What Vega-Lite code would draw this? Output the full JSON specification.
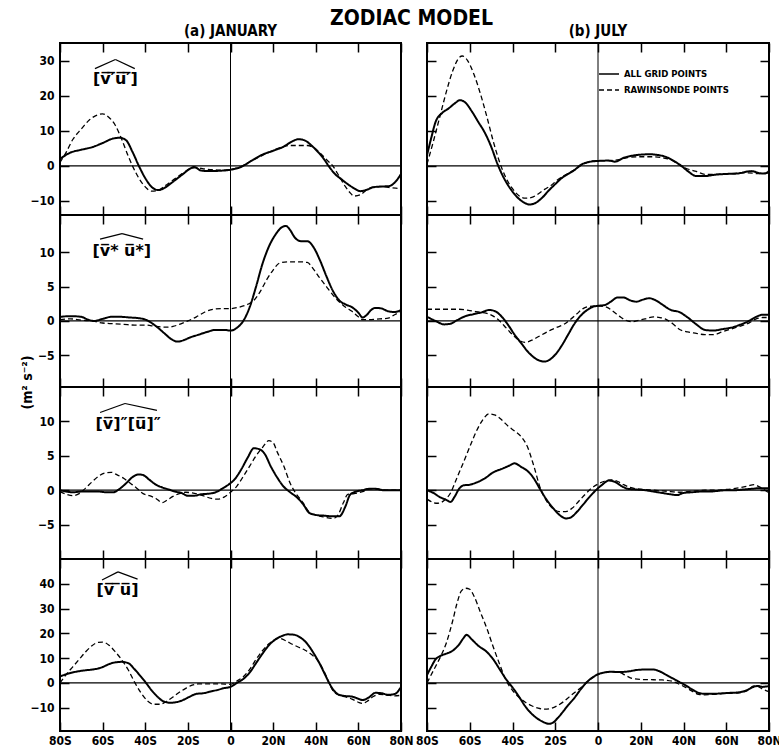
{
"$schema":"https://vega.github.io/schema/vega-lite/v6.json",
"padding":{"left":19,"top":8,"right":0,"bottom":0},
"background":"white",
"title":{"text":"ZODIAC MODEL","fontSize":21,"font":"'DejaVu Sans Condensed', 'Liberation Sans Narrow', 'DejaVu Sans', sans-serif","fontWeight":"bold","anchor":"middle","offset":-6,"dx":11,"color":"black"},
"config":{
 "view":{"stroke":"black","strokeWidth":2},
 "axis":{"domain":false,"grid":false,"tickSize":-9,"tickWidth":1.5,"tickColor":"black","labelFont":"'DejaVu Sans Condensed', 'Liberation Sans Narrow', 'DejaVu Sans', sans-serif","labelFontSize":12,"labelFontWeight":"bold","labelColor":"black","labelPadding":15,"labelFlush":false,"labelOverlap":false,"labelBound":false},
 "title":{"font":"'DejaVu Sans Condensed', 'Liberation Sans Narrow', 'DejaVu Sans', sans-serif","fontSize":16,"fontWeight":"bold","color":"black"}
},
"datasets":{
"J1A":[{"lat":-80,"val":2},{"lat":-75,"val":3.8},{"lat":-70,"val":4.6},{"lat":-65,"val":5.3},{"lat":-60,"val":6.5},{"lat":-55,"val":7.8},{"lat":-52,"val":8},{"lat":-49,"val":7.3},{"lat":-46,"val":4},{"lat":-43,"val":0},{"lat":-40,"val":-3.5},{"lat":-37,"val":-6},{"lat":-34,"val":-6.9},{"lat":-31,"val":-6.3},{"lat":-28,"val":-5},{"lat":-25,"val":-3.6},{"lat":-22,"val":-2.2},{"lat":-19,"val":-0.8},{"lat":-17,"val":-0.3},{"lat":-14,"val":-1.3},{"lat":-10,"val":-1.5},{"lat":-5,"val":-1.4},{"lat":0,"val":-1.1},{"lat":5,"val":-0.3},{"lat":10,"val":1.5},{"lat":15,"val":3.2},{"lat":20,"val":4.3},{"lat":25,"val":5.5},{"lat":29,"val":7},{"lat":32,"val":7.6},{"lat":35,"val":7.2},{"lat":38,"val":5.8},{"lat":41,"val":4},{"lat":44,"val":1.8},{"lat":46,"val":0},{"lat":49,"val":-2.3},{"lat":52,"val":-3.8},{"lat":55,"val":-5.2},{"lat":58,"val":-6.4},{"lat":61,"val":-7.2},{"lat":64,"val":-6.8},{"lat":67,"val":-6.1},{"lat":70,"val":-5.9},{"lat":74,"val":-5.8},{"lat":77,"val":-4.8},{"lat":80,"val":-2.3}],
"J1R":[{"lat":-80,"val":1},{"lat":-77,"val":4},{"lat":-74,"val":7.5},{"lat":-70,"val":10.5},{"lat":-66,"val":13.2},{"lat":-62,"val":14.6},{"lat":-60,"val":14.8},{"lat":-57,"val":13.8},{"lat":-54,"val":11.5},{"lat":-51,"val":7.5},{"lat":-48,"val":2.8},{"lat":-46,"val":0},{"lat":-43,"val":-3.5},{"lat":-40,"val":-6},{"lat":-37,"val":-7.2},{"lat":-34,"val":-7},{"lat":-31,"val":-5.8},{"lat":-28,"val":-4.5},{"lat":-25,"val":-3.2},{"lat":-22,"val":-1.9},{"lat":-19,"val":-0.8},{"lat":-16,"val":-0.5},{"lat":-12,"val":-0.9},{"lat":-8,"val":-1.1},{"lat":-4,"val":-1.2},{"lat":0,"val":-1},{"lat":5,"val":-0.2},{"lat":10,"val":1.5},{"lat":15,"val":3},{"lat":20,"val":4.4},{"lat":25,"val":5.5},{"lat":28,"val":5.8},{"lat":32,"val":5.8},{"lat":36,"val":5.8},{"lat":39,"val":5.2},{"lat":42,"val":3.7},{"lat":45,"val":1.8},{"lat":48,"val":0},{"lat":51,"val":-3},{"lat":54,"val":-6},{"lat":56,"val":-7.6},{"lat":58,"val":-8.6},{"lat":61,"val":-8.2},{"lat":64,"val":-6.8},{"lat":67,"val":-6},{"lat":70,"val":-5.9},{"lat":75,"val":-6.2},{"lat":80,"val":-6.5}],
"Y1A":[{"lat":-80,"val":3},{"lat":-78,"val":8},{"lat":-76,"val":12.5},{"lat":-73,"val":15},{"lat":-70,"val":16.3},{"lat":-67,"val":17.8},{"lat":-64.6,"val":18.7},{"lat":-62,"val":18},{"lat":-59,"val":15.5},{"lat":-56,"val":12.5},{"lat":-53,"val":9.5},{"lat":-50,"val":5.5},{"lat":-47,"val":0.5},{"lat":-44,"val":-3.5},{"lat":-41,"val":-6.5},{"lat":-38,"val":-8.8},{"lat":-35,"val":-10.3},{"lat":-32,"val":-11},{"lat":-29,"val":-10.5},{"lat":-26,"val":-9},{"lat":-23,"val":-7},{"lat":-20,"val":-5.2},{"lat":-17,"val":-3.5},{"lat":-14,"val":-2.3},{"lat":-11,"val":-1.2},{"lat":-8,"val":0.3},{"lat":-5,"val":1},{"lat":0,"val":1.4},{"lat":5,"val":1.5},{"lat":8,"val":1.2},{"lat":12,"val":2.3},{"lat":16,"val":2.9},{"lat":20,"val":3.2},{"lat":24,"val":3.3},{"lat":28,"val":3.1},{"lat":32,"val":2.5},{"lat":36,"val":1.2},{"lat":39,"val":0},{"lat":42,"val":-1.5},{"lat":46,"val":-2.9},{"lat":50,"val":-2.9},{"lat":55,"val":-2.5},{"lat":60,"val":-2.3},{"lat":65,"val":-2.2},{"lat":70,"val":-1.6},{"lat":72,"val":-1.5},{"lat":75,"val":-2},{"lat":78,"val":-2.2},{"lat":80,"val":-1.5}],
"Y1R":[{"lat":-80,"val":0.5},{"lat":-77,"val":7},{"lat":-74,"val":14},{"lat":-71,"val":21},{"lat":-68,"val":27},{"lat":-65,"val":30.8},{"lat":-63.5,"val":31.3},{"lat":-61,"val":30},{"lat":-58,"val":26},{"lat":-55,"val":20.5},{"lat":-52,"val":14},{"lat":-49,"val":7},{"lat":-46,"val":1},{"lat":-43,"val":-3.5},{"lat":-40,"val":-6.5},{"lat":-37,"val":-8.5},{"lat":-34,"val":-9.2},{"lat":-31,"val":-9},{"lat":-28,"val":-8},{"lat":-25,"val":-6.7},{"lat":-22,"val":-5.6},{"lat":-19,"val":-4},{"lat":-16,"val":-2.8},{"lat":-13,"val":-1.8},{"lat":-10,"val":-0.7},{"lat":-7,"val":0.5},{"lat":-4,"val":1.2},{"lat":0,"val":1.5},{"lat":5,"val":1.5},{"lat":10,"val":1.8},{"lat":15,"val":2.5},{"lat":20,"val":2.6},{"lat":25,"val":2.6},{"lat":30,"val":2.3},{"lat":35,"val":1.5},{"lat":38,"val":0.3},{"lat":42,"val":-0.9},{"lat":46,"val":-1.6},{"lat":50,"val":-2.4},{"lat":55,"val":-2.4},{"lat":60,"val":-2.3},{"lat":65,"val":-2.1},{"lat":70,"val":-2},{"lat":75,"val":-2.2},{"lat":80,"val":-2}],
"J2A":[{"lat":-80,"val":0.6},{"lat":-75,"val":0.7},{"lat":-70,"val":0.6},{"lat":-67,"val":0.2},{"lat":-64,"val":0},{"lat":-60,"val":0.3},{"lat":-56,"val":0.6},{"lat":-52,"val":0.6},{"lat":-47,"val":0.5},{"lat":-43,"val":0.4},{"lat":-40,"val":0.2},{"lat":-37,"val":-0.3},{"lat":-34,"val":-1},{"lat":-31,"val":-1.8},{"lat":-28,"val":-2.6},{"lat":-25,"val":-3},{"lat":-22,"val":-2.8},{"lat":-19,"val":-2.4},{"lat":-15,"val":-2},{"lat":-11,"val":-1.6},{"lat":-7,"val":-1.3},{"lat":-3,"val":-1.3},{"lat":0,"val":-1.4},{"lat":3,"val":-1},{"lat":6,"val":0},{"lat":9,"val":2},{"lat":12,"val":5},{"lat":15,"val":8.3},{"lat":18,"val":10.8},{"lat":21,"val":12.5},{"lat":24,"val":13.6},{"lat":26,"val":13.8},{"lat":28,"val":13.2},{"lat":30,"val":12.2},{"lat":33,"val":11.6},{"lat":36,"val":11.6},{"lat":39,"val":10.7},{"lat":42,"val":8.8},{"lat":45,"val":6.5},{"lat":48,"val":4.4},{"lat":51,"val":3},{"lat":54,"val":2.4},{"lat":57,"val":2},{"lat":60,"val":1.2},{"lat":62,"val":0.5},{"lat":64,"val":0.9},{"lat":66,"val":1.6},{"lat":68,"val":1.9},{"lat":71,"val":1.8},{"lat":74,"val":1.4},{"lat":77,"val":1.3},{"lat":80,"val":1.6}],
"J2R":[{"lat":-80,"val":0.2},{"lat":-75,"val":0.3},{"lat":-70,"val":0.1},{"lat":-65,"val":0},{"lat":-60,"val":-0.3},{"lat":-55,"val":-0.4},{"lat":-50,"val":-0.5},{"lat":-45,"val":-0.6},{"lat":-40,"val":-0.6},{"lat":-35,"val":-0.8},{"lat":-30,"val":-0.9},{"lat":-27,"val":-0.8},{"lat":-24,"val":-0.5},{"lat":-20,"val":0},{"lat":-16,"val":0.6},{"lat":-12,"val":1.3},{"lat":-8,"val":1.7},{"lat":-4,"val":1.8},{"lat":0,"val":1.8},{"lat":4,"val":2},{"lat":8,"val":2.4},{"lat":11,"val":3},{"lat":14,"val":4.3},{"lat":17,"val":6},{"lat":20,"val":7.4},{"lat":23,"val":8.4},{"lat":27,"val":8.6},{"lat":32,"val":8.6},{"lat":36,"val":8.5},{"lat":39,"val":7.5},{"lat":42,"val":6.2},{"lat":45,"val":5},{"lat":48,"val":3.8},{"lat":51,"val":2.8},{"lat":54,"val":2},{"lat":57,"val":1.4},{"lat":60,"val":0.6},{"lat":62,"val":0.2},{"lat":66,"val":0.2},{"lat":70,"val":0.3},{"lat":74,"val":0.4},{"lat":77,"val":0.9},{"lat":80,"val":1.4}],
"Y2A":[{"lat":-80,"val":0.6},{"lat":-76,"val":0},{"lat":-72,"val":-0.5},{"lat":-69,"val":-0.4},{"lat":-66,"val":0.1},{"lat":-62,"val":0.7},{"lat":-58,"val":1},{"lat":-54,"val":1.3},{"lat":-51,"val":1.6},{"lat":-48,"val":1.4},{"lat":-45,"val":0.6},{"lat":-42,"val":-0.6},{"lat":-39,"val":-2},{"lat":-36,"val":-3.2},{"lat":-33,"val":-4.4},{"lat":-30,"val":-5.3},{"lat":-27,"val":-5.8},{"lat":-25,"val":-5.9},{"lat":-23,"val":-5.7},{"lat":-20,"val":-4.9},{"lat":-17,"val":-3.6},{"lat":-14,"val":-2},{"lat":-11,"val":-0.4},{"lat":-8,"val":0.8},{"lat":-5,"val":1.6},{"lat":-2,"val":2.1},{"lat":0,"val":2.2},{"lat":3,"val":2.3},{"lat":6,"val":2.8},{"lat":9,"val":3.4},{"lat":12,"val":3.4},{"lat":15,"val":3},{"lat":18,"val":2.8},{"lat":21,"val":3.1},{"lat":24,"val":3.3},{"lat":27,"val":3},{"lat":30,"val":2.4},{"lat":34,"val":1.6},{"lat":38,"val":1.3},{"lat":42,"val":0.5},{"lat":46,"val":-0.5},{"lat":50,"val":-1.3},{"lat":54,"val":-1.4},{"lat":58,"val":-1.2},{"lat":62,"val":-1},{"lat":66,"val":-0.6},{"lat":70,"val":-0.1},{"lat":74,"val":0.6},{"lat":77,"val":0.9},{"lat":80,"val":0.9}],
"Y2R":[{"lat":-80,"val":1.7},{"lat":-75,"val":1.7},{"lat":-70,"val":1.7},{"lat":-65,"val":1.7},{"lat":-60,"val":1.5},{"lat":-56,"val":1.3},{"lat":-52,"val":1.1},{"lat":-49,"val":0.7},{"lat":-46,"val":0},{"lat":-43,"val":-1},{"lat":-40,"val":-2},{"lat":-37,"val":-2.8},{"lat":-34,"val":-3.1},{"lat":-31,"val":-2.8},{"lat":-28,"val":-2.3},{"lat":-25,"val":-1.8},{"lat":-22,"val":-1.3},{"lat":-19,"val":-0.9},{"lat":-16,"val":-0.5},{"lat":-13,"val":0.2},{"lat":-10,"val":1},{"lat":-7,"val":1.8},{"lat":-4,"val":2.1},{"lat":0,"val":2.2},{"lat":4,"val":2},{"lat":7,"val":1.4},{"lat":10,"val":0.7},{"lat":13,"val":0.1},{"lat":16,"val":-0.1},{"lat":19,"val":0.1},{"lat":22,"val":0.3},{"lat":26,"val":0.6},{"lat":29,"val":0.5},{"lat":32,"val":0.2},{"lat":35,"val":-0.4},{"lat":38,"val":-1.2},{"lat":42,"val":-1.6},{"lat":46,"val":-1.8},{"lat":50,"val":-2},{"lat":54,"val":-2},{"lat":58,"val":-1.6},{"lat":62,"val":-1.2},{"lat":66,"val":-0.8},{"lat":70,"val":-0.4},{"lat":74,"val":0.3},{"lat":77,"val":0.5},{"lat":80,"val":0.5}],
"J3A":[{"lat":-80,"val":0},{"lat":-77,"val":-0.2},{"lat":-74,"val":-0.3},{"lat":-70,"val":-0.2},{"lat":-66,"val":-0.2},{"lat":-62,"val":-0.2},{"lat":-58,"val":-0.3},{"lat":-55,"val":-0.3},{"lat":-52,"val":0.2},{"lat":-49,"val":1},{"lat":-46,"val":1.9},{"lat":-43,"val":2.3},{"lat":-41,"val":2.2},{"lat":-38,"val":1.5},{"lat":-35,"val":0.8},{"lat":-32,"val":0.4},{"lat":-29,"val":0.1},{"lat":-26,"val":-0.2},{"lat":-23,"val":-0.4},{"lat":-20,"val":-0.8},{"lat":-17,"val":-0.8},{"lat":-14,"val":-0.6},{"lat":-10,"val":-0.5},{"lat":-7,"val":-0.3},{"lat":-4,"val":0.2},{"lat":-1,"val":0.8},{"lat":2,"val":1.6},{"lat":5,"val":3},{"lat":8,"val":4.7},{"lat":11,"val":6.1},{"lat":14,"val":5.9},{"lat":16,"val":5.3},{"lat":19,"val":3.4},{"lat":22,"val":1.8},{"lat":25,"val":0.5},{"lat":28,"val":-0.3},{"lat":31,"val":-1},{"lat":34,"val":-2},{"lat":37,"val":-3.3},{"lat":40,"val":-3.6},{"lat":44,"val":-3.7},{"lat":48,"val":-3.8},{"lat":51,"val":-3.8},{"lat":54,"val":-2.3},{"lat":56,"val":-0.7},{"lat":58,"val":-0.3},{"lat":62,"val":0},{"lat":65,"val":0.2},{"lat":68,"val":0.2},{"lat":72,"val":0},{"lat":76,"val":0},{"lat":80,"val":0}],
"J3R":[{"lat":-80,"val":-0.2},{"lat":-77,"val":-0.6},{"lat":-74,"val":-0.8},{"lat":-71,"val":-0.5},{"lat":-68,"val":0.3},{"lat":-65,"val":1.2},{"lat":-62,"val":2},{"lat":-59,"val":2.5},{"lat":-56,"val":2.6},{"lat":-53,"val":2.2},{"lat":-50,"val":1.7},{"lat":-47,"val":1},{"lat":-44,"val":0.3},{"lat":-41,"val":-0.5},{"lat":-38,"val":-0.8},{"lat":-35,"val":-1.2},{"lat":-32,"val":-1.8},{"lat":-30,"val":-1.5},{"lat":-27,"val":-0.9},{"lat":-24,"val":-0.5},{"lat":-21,"val":-0.3},{"lat":-18,"val":-0.4},{"lat":-15,"val":-0.6},{"lat":-12,"val":-0.9},{"lat":-9,"val":-1.2},{"lat":-6,"val":-1.3},{"lat":-3,"val":-1},{"lat":0,"val":-0.3},{"lat":3,"val":0.6},{"lat":6,"val":2},{"lat":9,"val":3.5},{"lat":12,"val":5},{"lat":15,"val":6.2},{"lat":18,"val":7.2},{"lat":20,"val":6.9},{"lat":22,"val":5.5},{"lat":25,"val":3.5},{"lat":28,"val":1},{"lat":31,"val":-0.6},{"lat":34,"val":-1.8},{"lat":37,"val":-3.2},{"lat":40,"val":-3.6},{"lat":44,"val":-3.9},{"lat":48,"val":-4.1},{"lat":50,"val":-3.8},{"lat":53,"val":-1.8},{"lat":55,"val":-0.6},{"lat":58,"val":-0.5},{"lat":62,"val":-0.2},{"lat":66,"val":0.2},{"lat":70,"val":0.1},{"lat":75,"val":0},{"lat":80,"val":0}],
"Y3A":[{"lat":-80,"val":0},{"lat":-77,"val":-0.4},{"lat":-74,"val":-1},{"lat":-71,"val":-1.4},{"lat":-69,"val":-1.7},{"lat":-67,"val":-0.9},{"lat":-65,"val":0.2},{"lat":-63,"val":0.7},{"lat":-60,"val":0.8},{"lat":-57,"val":1.1},{"lat":-53,"val":1.7},{"lat":-49,"val":2.6},{"lat":-45,"val":3.1},{"lat":-42,"val":3.5},{"lat":-39,"val":3.9},{"lat":-36,"val":3.4},{"lat":-33,"val":2.8},{"lat":-30,"val":1.7},{"lat":-27,"val":0.1},{"lat":-24,"val":-1.4},{"lat":-21,"val":-2.6},{"lat":-18,"val":-3.6},{"lat":-15,"val":-4.1},{"lat":-13,"val":-4},{"lat":-10,"val":-3.2},{"lat":-7,"val":-2.1},{"lat":-4,"val":-1},{"lat":-1,"val":0},{"lat":2,"val":0.8},{"lat":5,"val":1.4},{"lat":8,"val":1.2},{"lat":11,"val":0.6},{"lat":14,"val":0.2},{"lat":18,"val":0.1},{"lat":22,"val":0},{"lat":26,"val":-0.2},{"lat":30,"val":-0.4},{"lat":34,"val":-0.6},{"lat":37,"val":-0.7},{"lat":40,"val":-0.4},{"lat":44,"val":-0.3},{"lat":48,"val":-0.2},{"lat":52,"val":-0.2},{"lat":56,"val":-0.1},{"lat":60,"val":0},{"lat":64,"val":0},{"lat":68,"val":0.1},{"lat":72,"val":0.2},{"lat":76,"val":0.3},{"lat":80,"val":0.3}],
"Y3R":[{"lat":-80,"val":-1.3},{"lat":-77,"val":-1.8},{"lat":-75,"val":-1.9},{"lat":-72,"val":-1.5},{"lat":-69,"val":-0.4},{"lat":-66,"val":1.8},{"lat":-63,"val":4},{"lat":-60,"val":6.3},{"lat":-57,"val":8.5},{"lat":-54,"val":10.2},{"lat":-51,"val":11.1},{"lat":-48,"val":10.9},{"lat":-45,"val":10.2},{"lat":-42,"val":9.3},{"lat":-39,"val":8.6},{"lat":-36,"val":7.8},{"lat":-33,"val":6.3},{"lat":-30,"val":3.5},{"lat":-27,"val":0.3},{"lat":-24,"val":-1.6},{"lat":-21,"val":-2.7},{"lat":-18,"val":-3.1},{"lat":-15,"val":-3.1},{"lat":-12,"val":-2.6},{"lat":-9,"val":-1.6},{"lat":-6,"val":-0.6},{"lat":-3,"val":0.3},{"lat":0,"val":0.9},{"lat":3,"val":1.3},{"lat":6,"val":1.5},{"lat":9,"val":1.3},{"lat":12,"val":0.8},{"lat":15,"val":0.4},{"lat":18,"val":0.2},{"lat":22,"val":0.1},{"lat":26,"val":0},{"lat":30,"val":-0.1},{"lat":34,"val":-0.2},{"lat":38,"val":-0.3},{"lat":42,"val":-0.2},{"lat":46,"val":-0.1},{"lat":50,"val":0},{"lat":55,"val":0},{"lat":60,"val":0.1},{"lat":65,"val":0.3},{"lat":70,"val":0.6},{"lat":73,"val":0.8},{"lat":76,"val":0.4},{"lat":80,"val":-0.4}],
"J4A":[{"lat":-80,"val":2.6},{"lat":-76,"val":3.8},{"lat":-72,"val":4.6},{"lat":-68,"val":5.1},{"lat":-64,"val":5.5},{"lat":-60,"val":6.4},{"lat":-57,"val":7.6},{"lat":-54,"val":8.3},{"lat":-51,"val":8.5},{"lat":-48,"val":8},{"lat":-45,"val":5.5},{"lat":-42,"val":2.5},{"lat":-40,"val":0.4},{"lat":-37,"val":-3},{"lat":-34,"val":-5.8},{"lat":-31,"val":-7.6},{"lat":-28,"val":-8},{"lat":-25,"val":-7.7},{"lat":-22,"val":-6.8},{"lat":-19,"val":-5.5},{"lat":-16,"val":-4.4},{"lat":-13,"val":-4.2},{"lat":-10,"val":-3.6},{"lat":-6,"val":-2.8},{"lat":-3,"val":-2.1},{"lat":0,"val":-1.6},{"lat":3,"val":0},{"lat":6,"val":1.6},{"lat":9,"val":4.2},{"lat":12,"val":8},{"lat":15,"val":11.8},{"lat":18,"val":15.2},{"lat":21,"val":17.5},{"lat":24,"val":18.9},{"lat":27,"val":19.6},{"lat":30,"val":19.4},{"lat":33,"val":18.2},{"lat":36,"val":15.8},{"lat":39,"val":12},{"lat":42,"val":7.5},{"lat":44,"val":4},{"lat":46,"val":0.5},{"lat":48,"val":-2.5},{"lat":51,"val":-4.8},{"lat":54,"val":-5.3},{"lat":57,"val":-5.5},{"lat":60,"val":-6.4},{"lat":62,"val":-6.9},{"lat":65,"val":-5.8},{"lat":68,"val":-4},{"lat":71,"val":-4.2},{"lat":74,"val":-4.8},{"lat":77,"val":-4.5},{"lat":80,"val":-1.6}],
"J4R":[{"lat":-80,"val":0},{"lat":-77,"val":3.5},{"lat":-74,"val":6.5},{"lat":-71,"val":9.5},{"lat":-68,"val":12.5},{"lat":-65,"val":15},{"lat":-62,"val":16.4},{"lat":-60,"val":16.5},{"lat":-57,"val":15.2},{"lat":-54,"val":12.5},{"lat":-51,"val":9.3},{"lat":-48,"val":5.3},{"lat":-45,"val":0.3},{"lat":-42,"val":-4},{"lat":-39,"val":-7.2},{"lat":-36,"val":-8.6},{"lat":-33,"val":-8.6},{"lat":-30,"val":-7.4},{"lat":-27,"val":-5.7},{"lat":-24,"val":-3.8},{"lat":-21,"val":-2.2},{"lat":-18,"val":-0.9},{"lat":-15,"val":-0.4},{"lat":-10,"val":-0.4},{"lat":-5,"val":-0.4},{"lat":0,"val":-0.6},{"lat":3,"val":0.8},{"lat":6,"val":2.5},{"lat":9,"val":5.5},{"lat":12,"val":9.5},{"lat":15,"val":13},{"lat":18,"val":15.8},{"lat":21,"val":17.5},{"lat":23,"val":18},{"lat":26,"val":17},{"lat":29,"val":15.6},{"lat":32,"val":14.4},{"lat":35,"val":13.2},{"lat":38,"val":11.5},{"lat":41,"val":9},{"lat":44,"val":4.5},{"lat":46,"val":0.5},{"lat":48,"val":-3},{"lat":51,"val":-5},{"lat":54,"val":-5.6},{"lat":57,"val":-6.5},{"lat":60,"val":-7.8},{"lat":62,"val":-8.3},{"lat":64,"val":-7.5},{"lat":67,"val":-5.5},{"lat":70,"val":-4.6},{"lat":74,"val":-5},{"lat":77,"val":-5.2},{"lat":80,"val":-5}],
"Y4A":[{"lat":-80,"val":3.2},{"lat":-78,"val":6.5},{"lat":-76,"val":9.5},{"lat":-74,"val":10.8},{"lat":-71,"val":11.8},{"lat":-68,"val":13},{"lat":-65,"val":15.5},{"lat":-63,"val":18},{"lat":-61.5,"val":19.4},{"lat":-59,"val":17.5},{"lat":-56,"val":15},{"lat":-52,"val":12.5},{"lat":-49,"val":9.5},{"lat":-46,"val":5.5},{"lat":-43,"val":1.5},{"lat":-40,"val":-1.8},{"lat":-37,"val":-5.5},{"lat":-34,"val":-9.5},{"lat":-31,"val":-12.5},{"lat":-28,"val":-14.6},{"lat":-25,"val":-16},{"lat":-23,"val":-16.5},{"lat":-21,"val":-16},{"lat":-19,"val":-14.3},{"lat":-17,"val":-12.3},{"lat":-14,"val":-9},{"lat":-11,"val":-6},{"lat":-8,"val":-2.5},{"lat":-5,"val":0.5},{"lat":-2,"val":2.5},{"lat":0,"val":3.5},{"lat":3,"val":4.2},{"lat":6,"val":4.5},{"lat":10,"val":4.4},{"lat":14,"val":4.6},{"lat":18,"val":5.2},{"lat":22,"val":5.4},{"lat":26,"val":5.4},{"lat":29,"val":4.6},{"lat":32,"val":3.2},{"lat":35,"val":1.8},{"lat":38,"val":0.4},{"lat":41,"val":-1},{"lat":44,"val":-2.6},{"lat":47,"val":-4},{"lat":50,"val":-4.4},{"lat":54,"val":-4.4},{"lat":58,"val":-4.2},{"lat":62,"val":-4},{"lat":66,"val":-3.8},{"lat":70,"val":-2.8},{"lat":73,"val":-1.5},{"lat":75,"val":-1.2},{"lat":77,"val":-1.6},{"lat":80,"val":-1.2}],
"Y4R":[{"lat":-80,"val":0},{"lat":-77,"val":5},{"lat":-74,"val":10},{"lat":-71,"val":16},{"lat":-68,"val":25},{"lat":-66,"val":32},{"lat":-64,"val":37},{"lat":-62,"val":38.2},{"lat":-60,"val":37.8},{"lat":-58,"val":35},{"lat":-55,"val":28.5},{"lat":-52,"val":22},{"lat":-49,"val":14.5},{"lat":-46,"val":7.5},{"lat":-43,"val":1},{"lat":-40,"val":-3},{"lat":-37,"val":-5.8},{"lat":-34,"val":-7.8},{"lat":-31,"val":-9.2},{"lat":-28,"val":-10.2},{"lat":-25,"val":-10.6},{"lat":-22,"val":-10.3},{"lat":-19,"val":-9.2},{"lat":-16,"val":-7.5},{"lat":-13,"val":-5.3},{"lat":-10,"val":-3.2},{"lat":-7,"val":-1.2},{"lat":-4,"val":1.2},{"lat":-1,"val":3},{"lat":2,"val":4},{"lat":6,"val":4.5},{"lat":10,"val":4.2},{"lat":13,"val":3},{"lat":16,"val":1.8},{"lat":20,"val":1.4},{"lat":25,"val":1.3},{"lat":30,"val":1.2},{"lat":35,"val":0.6},{"lat":38,"val":-0.5},{"lat":41,"val":-1.8},{"lat":44,"val":-3.3},{"lat":47,"val":-4.6},{"lat":50,"val":-4.8},{"lat":54,"val":-4.6},{"lat":58,"val":-4.3},{"lat":62,"val":-4.2},{"lat":66,"val":-4},{"lat":70,"val":-3},{"lat":73,"val":-1.2},{"lat":75,"val":-1.5},{"lat":77,"val":-2.5},{"lat":80,"val":-3.5}]
},
"columns":2,
"spacing":{"row":0,"column":26},
"bounds":"flush",
"concat":[
 {"width":341,"height":172,"title":{"text":"(a)  JANUARY","offset":3,"fontSize":15},
  "resolve":{"axis":{"x":"independent","y":"independent"}},
  "layer":[
   {"data":{"values":[{}]},"mark":{"type":"rule","color":"black","strokeWidth":1.2},"encoding":{"y":{"datum":0,"type":"quantitative","scale":{"domain":[-14,35],"nice":false,"zero":false},"axis":null}}},
   {"data":{"values":[{}]},"mark":{"type":"rule","color":"black","strokeWidth":1},"encoding":{"x":{"datum":0,"type":"quantitative","scale":{"domain":[-80,80],"nice":false},"axis":{"orient":"top","title":null,"values":[-80,-60,-40,-20,0,20,40,60,80],"labels":false}}}},
   {"data":{"name":"J1A"},"mark":{"type":"line","color":"black","strokeWidth":2,"interpolate":"monotone"},"encoding":{"x":{"field":"lat","type":"quantitative","scale":{"domain":[-80,80],"nice":false},"axis":{"orient":"bottom","title":null,"values":[-80,-60,-40,-20,0,20,40,60,80],"labels":false}},"y":{"field":"val","type":"quantitative","scale":{"domain":[-14,35],"nice":false,"zero":false},"axis":{"orient":"left","title":null,"values":[-10,0,10,20,30]}},"strokeDash":{"datum":"ALL GRID POINTS","type":"nominal","scale":{"domain":["ALL GRID POINTS","RAWINSONDE POINTS"],"range":[[1,0],[5,3]]},"legend":{"orient":"none","legendX":538,"legendY":20,"title":null,"symbolType":"stroke","symbolSize":400,"symbolStrokeWidth":1.5,"symbolStrokeColor":"black","labelFont":"'DejaVu Sans Condensed', 'Liberation Sans Narrow', 'DejaVu Sans', sans-serif","labelFontSize":9.5,"labelFontWeight":"bold","labelColor":"black","labelOffset":4,"rowPadding":0}}}},
   {"data":{"name":"J1R"},"mark":{"type":"line","color":"black","strokeWidth":1.3,"interpolate":"monotone"},"encoding":{"x":{"field":"lat","type":"quantitative","scale":{"domain":[-80,80],"nice":false},"axis":null},"y":{"field":"val","type":"quantitative","scale":{"domain":[-14,35],"nice":false,"zero":false},"axis":null},"strokeDash":{"datum":"RAWINSONDE POINTS","type":"nominal"}}},
   {"data":{"values":[{}]},"mark":{"type":"text","font":"DejaVu Sans","fontSize":16,"fontWeight":"bold","color":"black"},"encoding":{"x":{"datum":-54,"type":"quantitative","axis":null},"y":{"datum":24.8,"type":"quantitative","axis":null},"text":{"value":"[v\u0305\u2032\u0305u\u0305\u2032\u0305]"}}},
   {"data":{"values":[{}]},"mark":{"type":"rule","color":"black","strokeWidth":1.2},"encoding":{"x":{"datum":-63.6,"type":"quantitative","axis":null},"y":{"datum":27.7,"type":"quantitative","axis":null},"x2":{"datum":-54},"y2":{"datum":30.3}}},
   {"data":{"values":[{}]},"mark":{"type":"rule","color":"black","strokeWidth":1.2},"encoding":{"x":{"datum":-54,"type":"quantitative","axis":null},"y":{"datum":30.3,"type":"quantitative","axis":null},"x2":{"datum":-44.9},"y2":{"datum":27.7}}}
  ]},
 {"width":342,"height":172,"title":{"text":"(b)  JULY","offset":3,"fontSize":15},
  "resolve":{"axis":{"x":"independent","y":"independent"}},
  "layer":[
   {"data":{"values":[{}]},"mark":{"type":"rule","color":"black","strokeWidth":1.2},"encoding":{"y":{"datum":0,"type":"quantitative","scale":{"domain":[-14,35],"nice":false,"zero":false},"axis":{"orient":"right","title":null,"values":[-10,0,10,20,30],"labels":false}}}},
   {"data":{"values":[{}]},"mark":{"type":"rule","color":"black","strokeWidth":1},"encoding":{"x":{"datum":0,"type":"quantitative","scale":{"domain":[-80,80],"nice":false},"axis":{"orient":"top","title":null,"values":[-80,-60,-40,-20,0,20,40,60,80],"labels":false}}}},
   {"data":{"name":"Y1A"},"mark":{"type":"line","color":"black","strokeWidth":2,"interpolate":"monotone"},"encoding":{"x":{"field":"lat","type":"quantitative","scale":{"domain":[-80,80],"nice":false},"axis":{"orient":"bottom","title":null,"values":[-80,-60,-40,-20,0,20,40,60,80],"labels":false}},"y":{"field":"val","type":"quantitative","scale":{"domain":[-14,35],"nice":false,"zero":false},"axis":{"orient":"left","title":null,"values":[-10,0,10,20,30],"labels":false}},"strokeDash":{"datum":"ALL GRID POINTS","type":"nominal"}}},
   {"data":{"name":"Y1R"},"mark":{"type":"line","color":"black","strokeWidth":1.3,"interpolate":"monotone"},"encoding":{"x":{"field":"lat","type":"quantitative","scale":{"domain":[-80,80],"nice":false},"axis":null},"y":{"field":"val","type":"quantitative","scale":{"domain":[-14,35],"nice":false,"zero":false},"axis":null},"strokeDash":{"datum":"RAWINSONDE POINTS","type":"nominal"}}}
  ]},
 {"width":341,"height":172,
  "resolve":{"axis":{"x":"independent","y":"independent"}},
  "layer":[
   {"data":{"values":[{}]},"mark":{"type":"rule","color":"black","strokeWidth":1.2},"encoding":{"y":{"datum":0,"type":"quantitative","scale":{"domain":[-9.6,15.4],"nice":false,"zero":false},"axis":null}}},
   {"data":{"values":[{}]},"mark":{"type":"rule","color":"black","strokeWidth":1},"encoding":{"x":{"datum":0,"type":"quantitative","scale":{"domain":[-80,80],"nice":false},"axis":{"orient":"top","title":null,"values":[-80,-60,-40,-20,0,20,40,60,80],"labels":false}}}},
   {"data":{"name":"J2A"},"mark":{"type":"line","color":"black","strokeWidth":2,"interpolate":"monotone"},"encoding":{"x":{"field":"lat","type":"quantitative","scale":{"domain":[-80,80],"nice":false},"axis":{"orient":"bottom","title":null,"values":[-80,-60,-40,-20,0,20,40,60,80],"labels":false}},"y":{"field":"val","type":"quantitative","scale":{"domain":[-9.6,15.4],"nice":false,"zero":false},"axis":{"orient":"left","values":[-5,0,5,10],"title":"(m\u00b2 s\u207b\u00b2)","titleFont":"'DejaVu Sans Condensed', 'DejaVu Sans', sans-serif","titleFontSize":14,"titleFontWeight":"bold","titleColor":"black","titleAngle":-90,"titleX":-33,"titleY":167,"titleAlign":"center","titleBaseline":"middle"}},"strokeDash":{"datum":"ALL GRID POINTS","type":"nominal"}}},
   {"data":{"name":"J2R"},"mark":{"type":"line","color":"black","strokeWidth":1.3,"interpolate":"monotone"},"encoding":{"x":{"field":"lat","type":"quantitative","scale":{"domain":[-80,80],"nice":false},"axis":null},"y":{"field":"val","type":"quantitative","scale":{"domain":[-9.6,15.4],"nice":false,"zero":false},"axis":null},"strokeDash":{"datum":"RAWINSONDE POINTS","type":"nominal"}}},
   {"data":{"values":[{}]},"mark":{"type":"text","font":"DejaVu Sans","fontSize":16,"fontWeight":"bold","color":"black"},"encoding":{"x":{"datum":-51,"type":"quantitative","axis":null},"y":{"datum":10.1,"type":"quantitative","axis":null},"text":{"value":"[v\u0305* u\u0305*]"}}},
   {"data":{"values":[{}]},"mark":{"type":"rule","color":"black","strokeWidth":1.2},"encoding":{"x":{"datum":-61.2,"type":"quantitative","axis":null},"y":{"datum":11.9,"type":"quantitative","axis":null},"x2":{"datum":-50.9},"y2":{"datum":12.7}}},
   {"data":{"values":[{}]},"mark":{"type":"rule","color":"black","strokeWidth":1.2},"encoding":{"x":{"datum":-50.9,"type":"quantitative","axis":null},"y":{"datum":12.7,"type":"quantitative","axis":null},"x2":{"datum":-41},"y2":{"datum":11.9}}}
  ]},
 {"width":342,"height":172,
  "resolve":{"axis":{"x":"independent","y":"independent"}},
  "layer":[
   {"data":{"values":[{}]},"mark":{"type":"rule","color":"black","strokeWidth":1.2},"encoding":{"y":{"datum":0,"type":"quantitative","scale":{"domain":[-9.6,15.4],"nice":false,"zero":false},"axis":{"orient":"right","title":null,"values":[-5,0,5,10],"labels":false}}}},
   {"data":{"values":[{}]},"mark":{"type":"rule","color":"black","strokeWidth":1},"encoding":{"x":{"datum":0,"type":"quantitative","scale":{"domain":[-80,80],"nice":false},"axis":{"orient":"top","title":null,"values":[-80,-60,-40,-20,0,20,40,60,80],"labels":false}}}},
   {"data":{"name":"Y2A"},"mark":{"type":"line","color":"black","strokeWidth":2,"interpolate":"monotone"},"encoding":{"x":{"field":"lat","type":"quantitative","scale":{"domain":[-80,80],"nice":false},"axis":{"orient":"bottom","title":null,"values":[-80,-60,-40,-20,0,20,40,60,80],"labels":false}},"y":{"field":"val","type":"quantitative","scale":{"domain":[-9.6,15.4],"nice":false,"zero":false},"axis":{"orient":"left","title":null,"values":[-5,0,5,10],"labels":false}},"strokeDash":{"datum":"ALL GRID POINTS","type":"nominal"}}},
   {"data":{"name":"Y2R"},"mark":{"type":"line","color":"black","strokeWidth":1.3,"interpolate":"monotone"},"encoding":{"x":{"field":"lat","type":"quantitative","scale":{"domain":[-80,80],"nice":false},"axis":null},"y":{"field":"val","type":"quantitative","scale":{"domain":[-9.6,15.4],"nice":false,"zero":false},"axis":null},"strokeDash":{"datum":"RAWINSONDE POINTS","type":"nominal"}}}
  ]},
 {"width":341,"height":172,
  "resolve":{"axis":{"x":"independent","y":"independent"}},
  "layer":[
   {"data":{"values":[{}]},"mark":{"type":"rule","color":"black","strokeWidth":1.2},"encoding":{"y":{"datum":0,"type":"quantitative","scale":{"domain":[-10,15],"nice":false,"zero":false},"axis":null}}},
   {"data":{"values":[{}]},"mark":{"type":"rule","color":"black","strokeWidth":1},"encoding":{"x":{"datum":0,"type":"quantitative","scale":{"domain":[-80,80],"nice":false},"axis":{"orient":"top","title":null,"values":[-80,-60,-40,-20,0,20,40,60,80],"labels":false}}}},
   {"data":{"name":"J3A"},"mark":{"type":"line","color":"black","strokeWidth":2,"interpolate":"monotone"},"encoding":{"x":{"field":"lat","type":"quantitative","scale":{"domain":[-80,80],"nice":false},"axis":{"orient":"bottom","title":null,"values":[-80,-60,-40,-20,0,20,40,60,80],"labels":false}},"y":{"field":"val","type":"quantitative","scale":{"domain":[-10,15],"nice":false,"zero":false},"axis":{"orient":"left","title":null,"values":[-5,0,5,10]}},"strokeDash":{"datum":"ALL GRID POINTS","type":"nominal"}}},
   {"data":{"name":"J3R"},"mark":{"type":"line","color":"black","strokeWidth":1.3,"interpolate":"monotone"},"encoding":{"x":{"field":"lat","type":"quantitative","scale":{"domain":[-80,80],"nice":false},"axis":null},"y":{"field":"val","type":"quantitative","scale":{"domain":[-10,15],"nice":false,"zero":false},"axis":null},"strokeDash":{"datum":"RAWINSONDE POINTS","type":"nominal"}}},
   {"data":{"values":[{}]},"mark":{"type":"text","font":"DejaVu Sans","fontSize":16,"fontWeight":"bold","color":"black"},"encoding":{"x":{"datum":-48,"type":"quantitative","axis":null},"y":{"datum":9.6,"type":"quantitative","axis":null},"text":{"value":"[v\u0305]\u2033[u\u0305]\u2033"}}},
   {"data":{"values":[{}]},"mark":{"type":"rule","color":"black","strokeWidth":1.2},"encoding":{"x":{"datum":-61.2,"type":"quantitative","axis":null},"y":{"datum":11.3,"type":"quantitative","axis":null},"x2":{"datum":-49.5},"y2":{"datum":12.6}}},
   {"data":{"values":[{}]},"mark":{"type":"rule","color":"black","strokeWidth":1.2},"encoding":{"x":{"datum":-49.5,"type":"quantitative","axis":null},"y":{"datum":12.6,"type":"quantitative","axis":null},"x2":{"datum":-34.5},"y2":{"datum":11.6}}}
  ]},
 {"width":342,"height":172,
  "resolve":{"axis":{"x":"independent","y":"independent"}},
  "layer":[
   {"data":{"values":[{}]},"mark":{"type":"rule","color":"black","strokeWidth":1.2},"encoding":{"y":{"datum":0,"type":"quantitative","scale":{"domain":[-10,15],"nice":false,"zero":false},"axis":{"orient":"right","title":null,"values":[-5,0,5,10],"labels":false}}}},
   {"data":{"values":[{}]},"mark":{"type":"rule","color":"black","strokeWidth":1},"encoding":{"x":{"datum":0,"type":"quantitative","scale":{"domain":[-80,80],"nice":false},"axis":{"orient":"top","title":null,"values":[-80,-60,-40,-20,0,20,40,60,80],"labels":false}}}},
   {"data":{"name":"Y3A"},"mark":{"type":"line","color":"black","strokeWidth":2,"interpolate":"monotone"},"encoding":{"x":{"field":"lat","type":"quantitative","scale":{"domain":[-80,80],"nice":false},"axis":{"orient":"bottom","title":null,"values":[-80,-60,-40,-20,0,20,40,60,80],"labels":false}},"y":{"field":"val","type":"quantitative","scale":{"domain":[-10,15],"nice":false,"zero":false},"axis":{"orient":"left","title":null,"values":[-5,0,5,10],"labels":false}},"strokeDash":{"datum":"ALL GRID POINTS","type":"nominal"}}},
   {"data":{"name":"Y3R"},"mark":{"type":"line","color":"black","strokeWidth":1.3,"interpolate":"monotone"},"encoding":{"x":{"field":"lat","type":"quantitative","scale":{"domain":[-80,80],"nice":false},"axis":null},"y":{"field":"val","type":"quantitative","scale":{"domain":[-10,15],"nice":false,"zero":false},"axis":null},"strokeDash":{"datum":"RAWINSONDE POINTS","type":"nominal"}}}
  ]},
 {"width":341,"height":172,
  "resolve":{"axis":{"x":"independent","y":"independent"}},
  "layer":[
   {"data":{"values":[{}]},"mark":{"type":"rule","color":"black","strokeWidth":1.2},"encoding":{"y":{"datum":0,"type":"quantitative","scale":{"domain":[-19.4,50],"nice":false,"zero":false},"axis":null}}},
   {"data":{"values":[{}]},"mark":{"type":"rule","color":"black","strokeWidth":1},"encoding":{"x":{"datum":0,"type":"quantitative","scale":{"domain":[-80,80],"nice":false},"axis":{"orient":"top","title":null,"values":[-80,-60,-40,-20,0,20,40,60,80],"labels":false}}}},
   {"data":{"name":"J4A"},"mark":{"type":"line","color":"black","strokeWidth":2,"interpolate":"monotone"},"encoding":{"x":{"field":"lat","type":"quantitative","scale":{"domain":[-80,80],"nice":false},"axis":{"orient":"bottom","title":null,"values":[-80,-60,-40,-20,0,20,40,60,80],"labelPadding":13,"labelExpr":"datum.value==0?'0':(datum.value<0?(-datum.value)+'S':datum.value+'N')"}},"y":{"field":"val","type":"quantitative","scale":{"domain":[-19.4,50],"nice":false,"zero":false},"axis":{"orient":"left","title":null,"values":[-10,0,10,20,30,40]}},"strokeDash":{"datum":"ALL GRID POINTS","type":"nominal"}}},
   {"data":{"name":"J4R"},"mark":{"type":"line","color":"black","strokeWidth":1.3,"interpolate":"monotone"},"encoding":{"x":{"field":"lat","type":"quantitative","scale":{"domain":[-80,80],"nice":false},"axis":null},"y":{"field":"val","type":"quantitative","scale":{"domain":[-19.4,50],"nice":false,"zero":false},"axis":null},"strokeDash":{"datum":"RAWINSONDE POINTS","type":"nominal"}}},
   {"data":{"values":[{}]},"mark":{"type":"text","font":"DejaVu Sans","fontSize":16,"fontWeight":"bold","color":"black"},"encoding":{"x":{"datum":-53,"type":"quantitative","axis":null},"y":{"datum":37.5,"type":"quantitative","axis":null},"text":{"value":"[v\u0305 \u0305u\u0305]"}}},
   {"data":{"values":[{}]},"mark":{"type":"rule","color":"black","strokeWidth":1.2},"encoding":{"x":{"datum":-60.3,"type":"quantitative","axis":null},"y":{"datum":41.5,"type":"quantitative","axis":null},"x2":{"datum":-52.8},"y2":{"datum":44.8}}},
   {"data":{"values":[{}]},"mark":{"type":"rule","color":"black","strokeWidth":1.2},"encoding":{"x":{"datum":-52.8,"type":"quantitative","axis":null},"y":{"datum":44.8,"type":"quantitative","axis":null},"x2":{"datum":-43.6},"y2":{"datum":41.9}}}
  ]},
 {"width":342,"height":172,
  "resolve":{"axis":{"x":"independent","y":"independent"}},
  "layer":[
   {"data":{"values":[{}]},"mark":{"type":"rule","color":"black","strokeWidth":1.2},"encoding":{"y":{"datum":0,"type":"quantitative","scale":{"domain":[-19.4,50],"nice":false,"zero":false},"axis":{"orient":"right","title":null,"values":[-10,0,10,20,30,40],"labels":false}}}},
   {"data":{"values":[{}]},"mark":{"type":"rule","color":"black","strokeWidth":1},"encoding":{"x":{"datum":0,"type":"quantitative","scale":{"domain":[-80,80],"nice":false},"axis":{"orient":"top","title":null,"values":[-80,-60,-40,-20,0,20,40,60,80],"labels":false}}}},
   {"data":{"name":"Y4A"},"mark":{"type":"line","color":"black","strokeWidth":2,"interpolate":"monotone"},"encoding":{"x":{"field":"lat","type":"quantitative","scale":{"domain":[-80,80],"nice":false},"axis":{"orient":"bottom","title":null,"values":[-80,-60,-40,-20,0,20,40,60,80],"labelPadding":13,"labelExpr":"datum.value==0?'0':(datum.value<0?(-datum.value)+'S':datum.value+'N')"}},"y":{"field":"val","type":"quantitative","scale":{"domain":[-19.4,50],"nice":false,"zero":false},"axis":{"orient":"left","title":null,"values":[-10,0,10,20,30,40],"labels":false}},"strokeDash":{"datum":"ALL GRID POINTS","type":"nominal"}}},
   {"data":{"name":"Y4R"},"mark":{"type":"line","color":"black","strokeWidth":1.3,"interpolate":"monotone"},"encoding":{"x":{"field":"lat","type":"quantitative","scale":{"domain":[-80,80],"nice":false},"axis":null},"y":{"field":"val","type":"quantitative","scale":{"domain":[-19.4,50],"nice":false,"zero":false},"axis":null},"strokeDash":{"datum":"RAWINSONDE POINTS","type":"nominal"}}}
  ]}
]
}
